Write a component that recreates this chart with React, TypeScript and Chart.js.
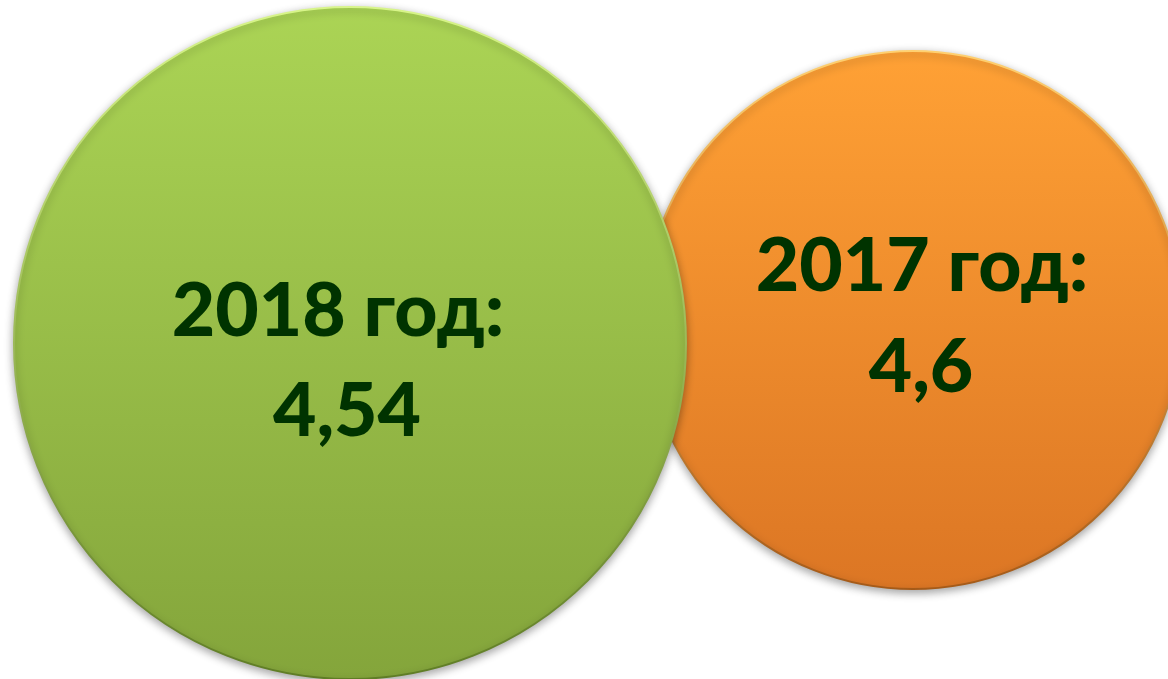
import React, { useEffect, useRef } from "react";
import { Chart, registerables } from "chart.js";

Chart.register(...registerables);

// ---- data ----
const years = ["2018", "2017"];
const values = [4.54, 4.6];
const yearSuffix = " год:";

// ---- layout (pixel space of the 1168x679 canvas) ----
const centersX = [350, 913];
const centersY = [343, 320];
const radii = [336, 269];
const line1Dx = [-12, 9];
const line2Dx = [-3, 8];
const line1Offset = [-7, -29];
const line2Offset = [93, 72];
const topColors = ["#abd455", "#ffa135"];
const bottomColors = ["#84a53b", "#dc7624"];
const rimLight = ["#d8f58a", "#ffd070"];
const rimDark = ["#5f7d25", "#a55a18"];

const W = 1168;
const H = 679;

function fmt(v: number) {
  return String(v).replace(".", ",");
}

const labelPlugin = {
  id: "bubbleLabels",
  beforeDatasetDraw(chart: any) {
    const ctx = chart.ctx;
    ctx.save();
    ctx.shadowColor = "rgba(0,0,0,0.35)";
    ctx.shadowBlur = 8;
    ctx.shadowOffsetX = 0;
    ctx.shadowOffsetY = 3;
  },
  afterDatasetDraw(chart: any) {
    chart.ctx.restore();
  },
  afterDatasetsDraw(chart: any) {
    const ctx = chart.ctx;
    ctx.save();
    ctx.fillStyle = "#003300";
    ctx.textAlign = "center";
    ctx.textBaseline = "alphabetic";
    ctx.font = "900 75px Lato, 'Open Sans', sans-serif";
    chart.data.datasets.forEach((ds: any, i: number) => {
      const meta = chart.getDatasetMeta(i);
      const el = meta.data[0];
      if (!el) return;
      ctx.fillText(years[i] + yearSuffix, el.x + line1Dx[i], el.y + line1Offset[i]);
      ctx.fillText(fmt(values[i]), el.x + line2Dx[i], el.y + line2Offset[i]);
    });
    ctx.restore();
  },
};

function makeGradient(chart: any, i: number, a: string, b: string) {
  const ys = chart.scales?.y;
  if (!ys) return a;
  const cy = ys.getPixelForValue(centersY[i]);
  if (!isFinite(cy)) return a;
  const g = chart.ctx.createLinearGradient(0, cy - radii[i], 0, cy + radii[i]);
  g.addColorStop(0, a);
  g.addColorStop(1, b);
  return g;
}

export default function App() {
  const ref = useRef<HTMLCanvasElement>(null);
  useEffect(() => {
    document.body.style.margin = "0";
    const datasets = years.map((y, i) => ({
      label: y + yearSuffix + " " + fmt(values[i]),
      data: [{ x: centersX[i], y: centersY[i], r: radii[i] }],
      backgroundColor: (c: any) => makeGradient(c.chart, i, topColors[i], bottomColors[i]),
      borderColor: (c: any) => makeGradient(c.chart, i, rimLight[i], rimDark[i]),
      borderWidth: 2,
    }));
    const chart = new Chart(ref.current!, {
      type: "bubble",
      data: { datasets },
      options: {
        animation: false,
        responsive: false,
        maintainAspectRatio: false,
        layout: { padding: 0, autoPadding: false } as any,
        events: [],
        clip: false as any,
        plugins: {
          legend: { display: false },
          tooltip: { enabled: false },
        },
        scales: {
          x: { type: "linear", min: 0, max: W, display: false },
          y: { type: "linear", min: 0, max: H, reverse: true, display: false },
        },
      },
      plugins: [labelPlugin],
    });
    return () => chart.destroy();
  }, []);
  return (
    <div style={{ width: W, height: H, background: "#fff" }}>
      <canvas ref={ref} width={W} height={H} style={{ display: "block" }} />
    </div>
  );
}
